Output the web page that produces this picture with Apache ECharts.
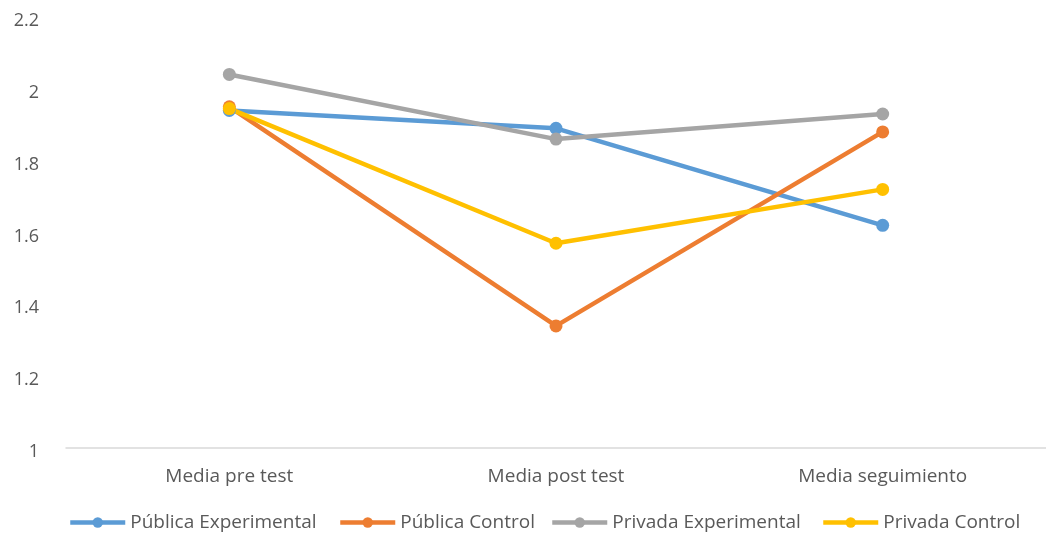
<!DOCTYPE html>
<html>
<head>
<meta charset="utf-8">
<script src="https://cdn.jsdelivr.net/npm/echarts@6/dist/echarts.min.js"></script>
<style>
  html, body { margin: 0; padding: 0; background: #fff; }
</style>
</head>
<body>
<div id="main" style="width: 1046px;height: 534px"></div>
<script>
var categories = ['Media pre test', 'Media post test', 'Media seguimiento'];
var seriesNames = ['Pública Experimental', 'Pública Control', 'Privada Experimental', 'Privada Control'];
var publicaExperimental = [1.94, 1.89, 1.62];
var publicaControl = [1.95, 1.34, 1.88];
var privadaExperimental = [2.04, 1.86, 1.93];
var privadaControl = [1.945, 1.57, 1.72];
var colors = ['#5B9BD5', '#ED7D31', '#A5A5A5', '#FFC000'];

var chartDom = document.getElementById('main');
var myChart = echarts.init(chartDom);
var font = 'Open Sans';

function lineSeries(name, data, color) {
  return {
    name: name,
    type: 'line',
    data: data,
    symbol: 'circle',
    symbolSize: 13,
    lineStyle: { width: 4.5, color: color },
    itemStyle: { color: color },
    emphasis: { disabled: true }
  };
}

// one legend per item so each sits where the original puts it
var legendLeft = [63, 333, 545, 816];
var legends = seriesNames.map(function (name, i) {
  return {
    left: legendLeft[i],
    top: 508,
    itemWidth: 55,
    itemHeight: 13,
    lineStyle: { width: 4.5 },
    textStyle: { fontFamily: font, fontSize: 19, color: '#595959' },
    data: [name]
  };
});

var option = {
  animation: false,
  color: colors,
  grid: { left: 66, top: 17, width: 980, height: 431 },
  legend: legends,
  xAxis: {
    type: 'category',
    data: categories,
    axisTick: { show: false },
    axisLine: { lineStyle: { color: '#D9D9D9', width: 1.5 } },
    axisLabel: { fontFamily: font, fontSize: 19, color: '#595959', margin: 19 }
  },
  yAxis: {
    type: 'value',
    min: 1,
    max: 2.2,
    interval: 0.2,
    splitLine: { show: false },
    // labels sit a little below their tick in the original
    axisLabel: { fontFamily: font, fontSize: 18, color: '#595959', margin: 27, verticalAlign: 'top', lineHeight: 8 }
  },
  series: [
    lineSeries(seriesNames[0], publicaExperimental, colors[0]),
    lineSeries(seriesNames[1], publicaControl, colors[1]),
    lineSeries(seriesNames[2], privadaExperimental, colors[2]),
    lineSeries(seriesNames[3], privadaControl, colors[3])
  ]
};

myChart.setOption(option);
</script>
</body>
</html>
